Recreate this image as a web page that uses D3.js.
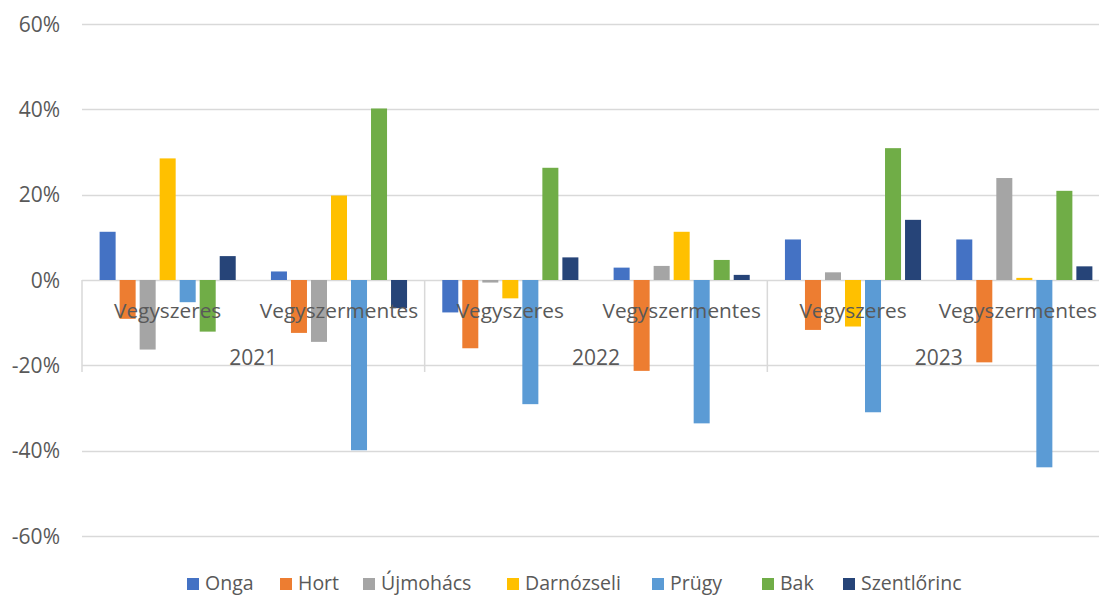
<!DOCTYPE html>
<html>
<head>
<meta charset="utf-8">
<script src="https://cdn.jsdelivr.net/npm/d3@7/dist/d3.min.js"></script>
<style>
  html, body { margin: 0; padding: 0; background: #fff; }
  svg { display: block; }
  text { font-family: "Open Sans", Lato, sans-serif; fill: #595959; }
</style>
</head>
<body>
<svg id="chart" width="1099" height="597"></svg>
<script>
// Category levels
const years = ["2021", "2022", "2023"];
const types = ["Vegyszeres", "Vegyszermentes"];

// Series (settlements) and colours
const series = ["Onga", "Hort", "Újmohács", "Darnózseli", "Prügy", "Bak", "Szentlőrinc"];
const colors = ["#4472c4", "#ed7d31", "#a5a5a5", "#ffc000", "#5b9bd5", "#70ad47", "#264478"];

// Values per series, in order: 2021 V, 2021 VM, 2022 V, 2022 VM, 2023 V, 2023 VM
const onga        = [0.113, 0.020, -0.076, 0.029, 0.095, 0.095];
const hort        = [-0.091, -0.124, -0.160, -0.213, -0.117, -0.193];
const ujmohacs    = [-0.163, -0.145, -0.006, 0.033, 0.018, 0.239];
const darnozseli  = [0.285, 0.198, -0.043, 0.113, -0.109, 0.005];
const prugy       = [-0.052, -0.399, -0.291, -0.336, -0.310, -0.439];
const bak         = [-0.121, 0.402, 0.263, 0.047, 0.309, 0.209];
const szentlorinc = [0.056, -0.066, 0.053, 0.012, 0.141, 0.032];

const valueSets = [onga, hort, ujmohacs, darnozseli, prugy, bak, szentlorinc];

// Y axis ticks
const yTicks = [0.6, 0.4, 0.2, 0, -0.2, -0.4, -0.6];
const pct = v => (v < 0 ? "-" : "") + Math.round(Math.abs(v) * 100) + "%";

const groups = [];
years.forEach(y => types.forEach(t => groups.push({ year: y, type: t, key: y + "|" + t })));

const rows = [];
groups.forEach((g, gi) => {
  series.forEach((s, si) => rows.push({ group: g.key, series: s, value: valueSets[si][gi], color: colors[si] }));
});

const W = 1099;
const svg = d3.select("#chart");
const plotLeft = 82, plotRight = 1110;

const y = d3.scaleLinear().domain([-0.6, 0.6]).range([536, 24]);

const x0 = d3.scaleBand().domain(groups.map(g => g.key)).range([plotLeft, plotRight]).paddingInner(0).paddingOuter(0);
const x1 = d3.scaleBand().domain(series).range([0, x0.bandwidth()]).paddingInner(0.2).paddingOuter(0.88);
const xYear = d3.scaleBand().domain(years).range([plotLeft, plotRight]);

// Gridlines
svg.append("g").selectAll("line").data(yTicks).join("line")
  .attr("x1", plotLeft).attr("x2", W)
  .attr("y1", d => Math.round(y(d)) + 0.5).attr("y2", d => Math.round(y(d)) + 0.5)
  .attr("stroke", "#d9d9d9").attr("stroke-width", 1.5);

// Y tick labels
svg.append("g").selectAll("text").data(yTicks).join("text")
  .attr("x", 60).attr("y", d => y(d) + 7.5)
  .attr("text-anchor", "end")
  .attr("font-size", 21)
  .text(pct);

// Year separators on the category axis
const seps = years.map(yr => xYear(yr)).concat([plotRight]);
svg.append("g").selectAll("line").data(seps).join("line")
  .attr("x1", d => d).attr("x2", d => d)
  .attr("y1", y(0)).attr("y2", 372)
  .attr("stroke", "#d9d9d9").attr("stroke-width", 1.5);

// Bars
svg.append("g").selectAll("rect").data(rows).join("rect")
  .attr("x", d => x0(d.group) + x1(d.series))
  .attr("width", x1.bandwidth())
  .attr("y", d => Math.min(y(d.value), y(0)))
  .attr("height", d => Math.abs(y(d.value) - y(0)))
  .attr("fill", d => d.color);

// Subcategory labels (kept inside the visible width)
svg.append("g").selectAll("text").data(groups).join("text")
  .attr("y", 318)
  .attr("text-anchor", "middle")
  .attr("font-size", 20.8)
  .text(d => d.type)
  .attr("x", function (d) {
    const cx = x0(d.key) + x0.bandwidth() / 2;
    const half = this.getComputedTextLength() / 2;
    return Math.min(cx, W - 2 - half);
  });

// Year labels
svg.append("g").selectAll("text").data(years).join("text")
  .attr("x", d => xYear(d) + xYear.bandwidth() / 2)
  .attr("y", 365)
  .attr("text-anchor", "middle")
  .attr("font-size", 21)
  .text(d => d);

// Legend
const legendX = [187, 280, 363, 507, 652, 762, 843];
const legend = svg.append("g").selectAll("g").data(series).join("g")
  .attr("transform", (d, i) => `translate(${legendX[i]},0)`);
legend.append("rect").attr("x", 0).attr("y", 578).attr("width", 12).attr("height", 12)
  .attr("fill", (d, i) => colors[i]);
legend.append("text").attr("x", 18).attr("y", 590).attr("font-size", 19.5).text(d => d);
</script>
</body>
</html>
